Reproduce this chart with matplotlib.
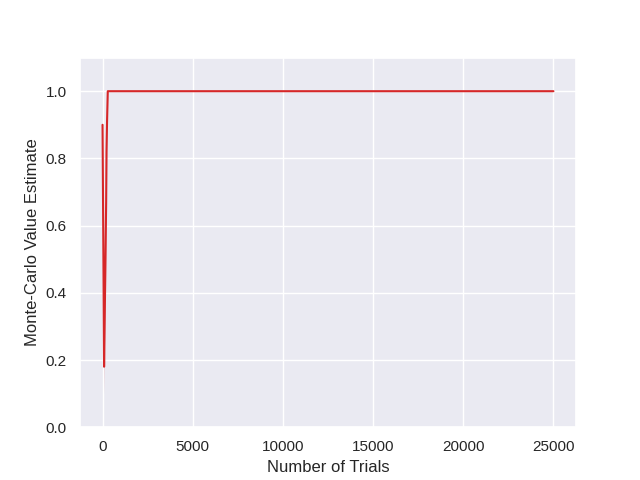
import matplotlib
matplotlib.use("Agg")
import matplotlib.pyplot as plt
import seaborn as sns
import numpy as np

sns.set_theme()
plt.rcParams['font.family'] = ['Liberation Sans', 'DejaVu Sans']

# numero de ensaios e estimativa de Monte-Carlo
trials = np.array([0, 30, 60, 85, 150, 200, 220, 250, 290, 1000, 5000, 10000, 25000])
estimate = np.array([0.90, 0.65, 0.40, 0.18, 0.45, 0.67, 0.82, 0.91, 1.0, 1.0, 1.0, 1.0, 1.0])
ci_low = np.array([0.90, 0.55, 0.30, 0.10, 0.35, 0.55, 0.72, 0.85, 1.0, 1.0, 1.0, 1.0, 1.0])
ci_high = np.array([0.90, 0.75, 0.50, 0.25, 0.55, 0.78, 0.90, 0.95, 1.0, 1.0, 1.0, 1.0, 1.0])

fig, ax = plt.subplots(figsize=(6.4, 4.8), dpi=100)
ax.fill_between(trials, ci_low, ci_high, color="tab:red", alpha=0.2, linewidth=0)
ax.plot(trials, estimate, color="tab:red", linewidth=1.5)

ax.set_ylim(0, 1.1)
ax.set_xlabel("Number of Trials")
ax.set_ylabel("Monte-Carlo Value Estimate")
fig.savefig("out.png")
